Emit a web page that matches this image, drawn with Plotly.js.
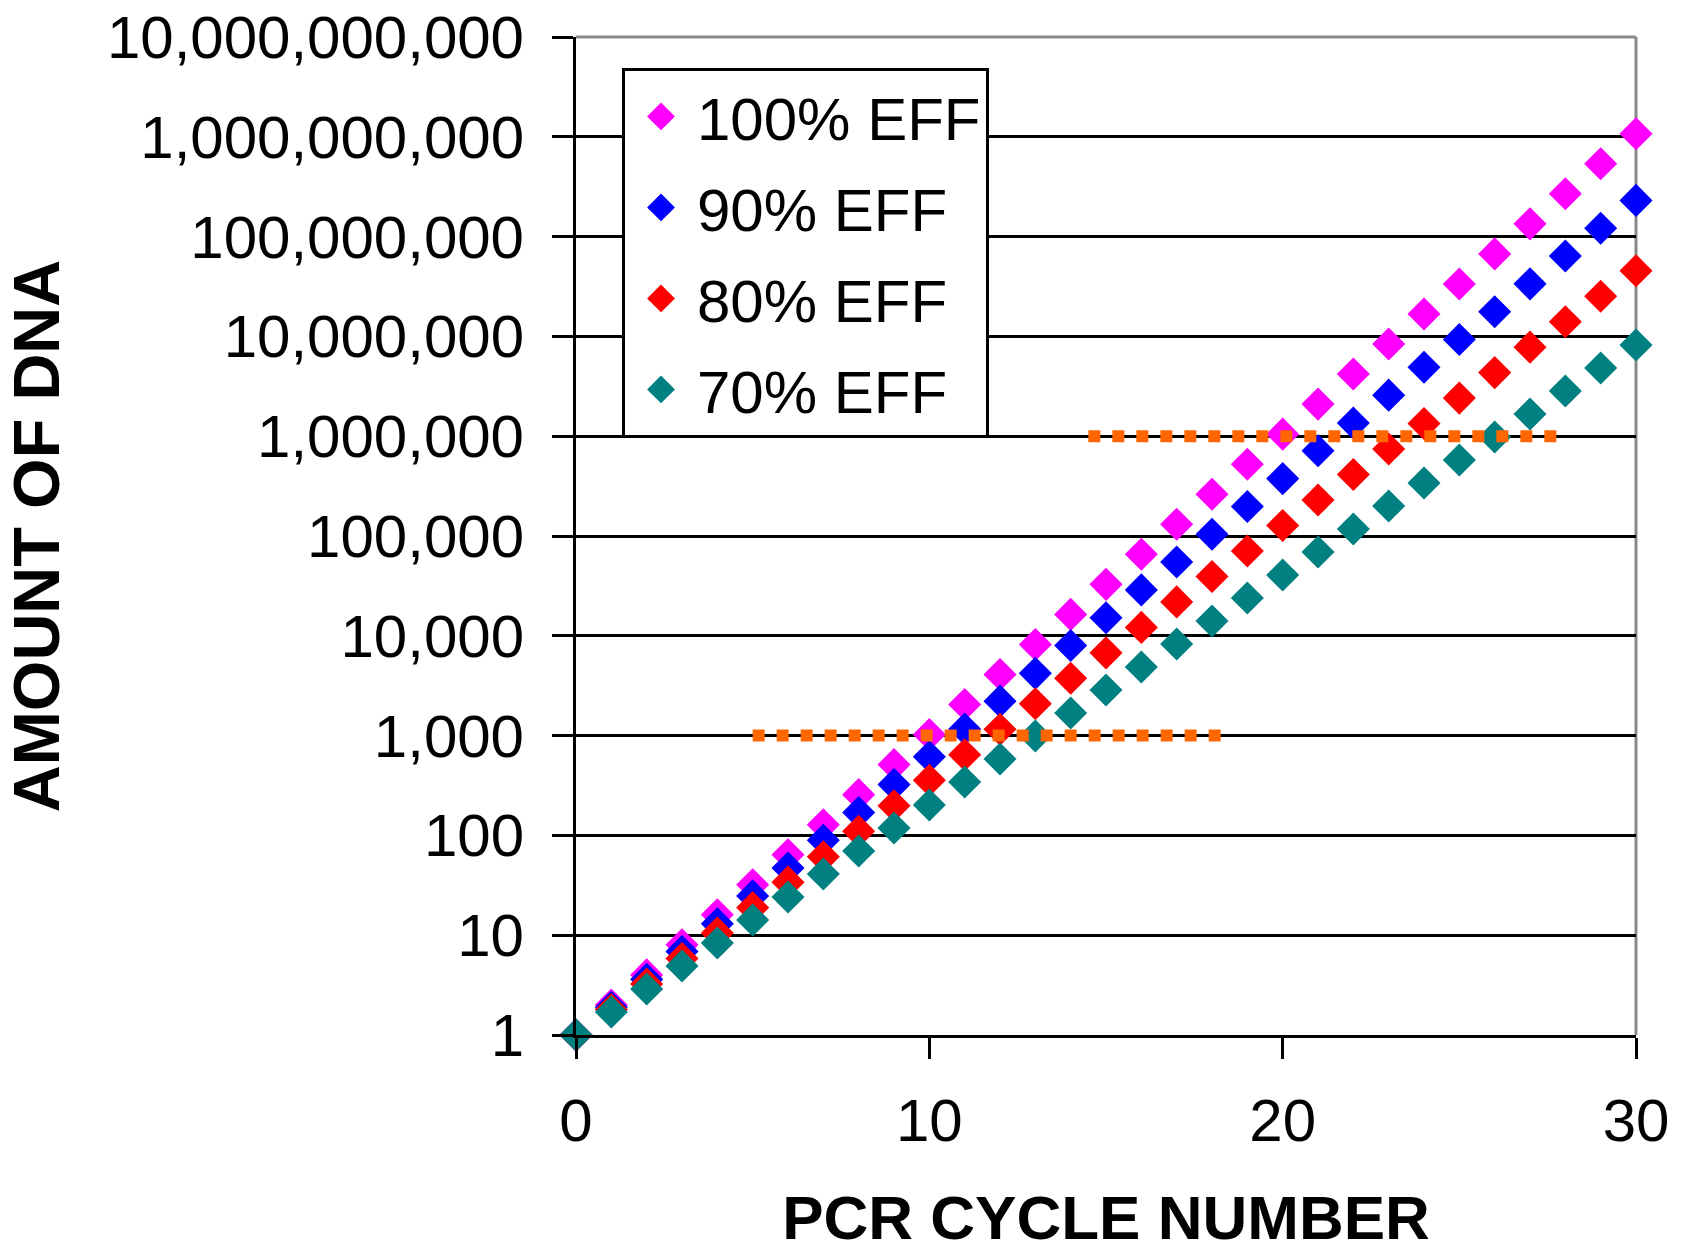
<!DOCTYPE html>
<html>
<head>
<meta charset="utf-8">
<script src="https://cdn.plot.ly/plotly-3.0.1.min.js"></script>
<style>html,body{margin:0;padding:0;background:#fff;}#chart{width:1682px;height:1252px;}</style>
</head>
<body>
<div id="chart"></div>
<script>
// PCR cycle numbers
const cycles = [0,1,2,3,4,5,6,7,8,9,10,11,12,13,14,15,16,17,18,19,20,21,22,23,24,25,26,27,28,29,30];
// Amount of DNA per cycle
const eff100 = [1,2,4,8,16,32,64,128,256,512,1024,2048,4096,8192,16384,32768,65536,131072,262144,524288,1048576,2097152,4194304,8388608,16777216,33554432,67108864,134217728,268435456,536870912,1073741824];
const eff90 = [1,1.9,3.61,6.86,13.03,24.76,47.05,89.39,169.8,322.7,613.1,1164.9,2213.3,4205.3,7990.1,15181,28844,54804,104127,197842,375900,714209,1356998,2578296,4898763,9307650,17684535,33600616,63841171,121298224,230466626];
const eff80 = [1,1.8,3.24,5.83,10.5,18.9,34.01,61.22,110.2,198.4,357.0,642.7,1156.8,2082.3,3748.1,6746.6,12143.9,21859,39346,70823,127482,229467,413041,743474,1338253,2408856,4335940,7804692,14048446,25287203,45516965];
const eff70 = [1,1.7,2.89,4.91,8.35,14.2,24.14,41.03,69.76,118.6,201.6,342.7,582.6,990.5,1683.8,2862.4,4866.1,8272.4,14063,23907,40642,69092,117456,199676,339449,577063,981007,1667712,2835110,4819688,8193469];
const seriesNames = ['100% EFF','90% EFF','80% EFF','70% EFF'];
const seriesColors = ['#FF00FF','#0000FF','#FF0000','#008080'];
// Orange dotted threshold lines
const thresholdLowX = [5, 18.25];
const thresholdLowY = [1000, 1000];
const thresholdHighX = [14.5, 27.75];
const thresholdHighY = [1000000, 1000000];
// Y tick labels
const yTickVals = [1,10,100,1000,10000,100000,1000000,10000000,100000000,1000000000,10000000000];
const yTickText = ['1','10','100','1,000','10,000','100,000','1,000,000','10,000,000','100,000,000','1,000,000,000','10,000,000,000'];
const xTickVals = [0,10,20,30];

const FONT = 'Liberation Sans, Arial, sans-serif';
const allSeries = [eff100, eff90, eff80, eff70];

const traces = allSeries.map((ys, i) => ({
  x: cycles, y: ys, type: 'scatter', mode: 'markers', name: seriesNames[i],
  legendgroup: 'g' + i,
  cliponaxis: false,
  marker: {symbol: 'diamond', size: 20, color: seriesColors[i], line: {width: 5, color: seriesColors[i]}}
}));

traces.push({x: thresholdLowX, y: thresholdLowY, type: 'scatter', mode: 'lines', showlegend: false, cliponaxis: false,
  line: {color: '#FF6600', width: 12, dash: 'dot'}, hoverinfo: 'skip'});
traces.push({x: thresholdHighX, y: thresholdHighY, type: 'scatter', mode: 'lines', showlegend: false, cliponaxis: false,
  line: {color: '#FF6600', width: 12, dash: 'dot'}, hoverinfo: 'skip'});

const layout = {
  width: 1682, height: 1252,
  margin: {l: 576, r: 46, t: 37, b: 217},
  paper_bgcolor: '#ffffff', plot_bgcolor: '#ffffff',
  font: {family: FONT, size: 60, color: '#000'},
  showlegend: true,
  legend: {
    x: 0.0434, y: 0.969, xanchor: 'left', yanchor: 'top',
    bgcolor: '#ffffff', bordercolor: '#000000', borderwidth: 3,
    font: {family: FONT, size: 60, color: '#000'},
    traceorder: 'grouped', tracegroupgap: 10, itemsizing: 'trace', itemwidth: 62
  },
  xaxis: {
    range: [0, 30], tickvals: xTickVals, ticks: 'outside', ticklen: 21, tickwidth: 3, tickcolor: '#000',
    showline: true, linecolor: '#000', linewidth: 3, showgrid: false, zeroline: false,
    tickfont: {family: FONT, size: 60, color: '#000'}, ticklabelstandoff: 10,
    title: {text: 'PCR CYCLE NUMBER', font: {family: FONT, size: 62, color: '#000', weight: 'bold'}, standoff: 48}
  },
  yaxis: {
    type: 'log', range: [0, 10], tickvals: yTickVals, ticktext: yTickText, ticks: 'outside', ticklen: 21, tickwidth: 3, tickcolor: '#000',
    showline: true, linecolor: '#000', linewidth: 3, showgrid: true, gridcolor: '#000', gridwidth: 3, zeroline: false,
    tickfont: {family: FONT, size: 60, color: '#000'}, ticklabelstandoff: 16,
    title: {text: 'AMOUNT OF DNA', font: {family: FONT, size: 65, color: '#000', weight: 'bold'}, standoff: 42}
  },
  shapes: [
    {type: 'line', xref: 'paper', yref: 'paper', x0: 0, x1: 1, y0: 1, y1: 1, line: {color: '#888888', width: 3}, layer: 'below'},
    {type: 'line', xref: 'paper', yref: 'paper', x0: 1, x1: 1, y0: 0, y1: 1, line: {color: '#888888', width: 3}, layer: 'below'}
  ]
};

Plotly.newPlot('chart', traces, layout, {staticPlot: true});
</script>
</body>
</html>
